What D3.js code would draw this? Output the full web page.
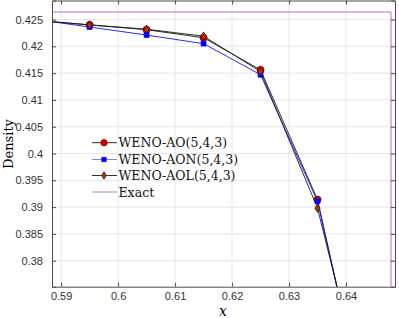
<!DOCTYPE html>
<html>
<head>
<meta charset="utf-8">
<script src="https://cdn.jsdelivr.net/npm/d3@7"></script>
<style>
  body { margin: 0; background: #fff; }
  svg { display: block; }
</style>
</head>
<body>
<script>
var xs = [0.585, 0.595, 0.605, 0.615, 0.625, 0.635, 0.645];
var ao = [0.4249, 0.4240, 0.4231, 0.4216, 0.4156, 0.3914, 0.344];
var aon = [0.4251, 0.4236, 0.4221, 0.4205, 0.4147, 0.3911, 0.344];
var aol = [0.4249, 0.4240, 0.4232, 0.4219, 0.4153, 0.3898, 0.347];
var exactX = [0.58, 0.6479, 0.6479];
var exactY = [0.4264, 0.4264, 0.36];
var xTicks = [0.59, 0.6, 0.61, 0.62, 0.63, 0.64];
var yTicks = [0.38, 0.385, 0.39, 0.395, 0.4, 0.405, 0.41, 0.415, 0.42, 0.425];
var names = ['WENO-AO(5,4,3)', 'WENO-AON(5,4,3)', 'WENO-AOL(5,4,3)', 'Exact'];

var W = 399, H = 318;
var mLeft = 52, mRight = 395, mTop = 0.5, mBottom = 286.7;

var svg = d3.select('body').append('svg').attr('width', W).attr('height', H);
var x = d3.scaleLinear().domain([0.5884, 0.6486]).range([mLeft, mRight]);
var y = d3.scaleLinear().domain([0.37515, 0.42855]).range([mBottom, mTop]);

svg.append('defs').append('clipPath').attr('id', 'clip')
  .append('rect').attr('x', mLeft).attr('y', mTop)
  .attr('width', mRight - mLeft).attr('height', mBottom - mTop);

// grid
svg.append('g').selectAll('line').data(xTicks).enter().append('line')
  .attr('x1', function(d) { return x(d); }).attr('x2', function(d) { return x(d); })
  .attr('y1', mTop).attr('y2', mBottom)
  .attr('stroke', '#e6e6e6').attr('stroke-width', 1);
svg.append('g').selectAll('line').data(yTicks).enter().append('line')
  .attr('x1', mLeft).attr('x2', mRight)
  .attr('y1', function(d) { return y(d); }).attr('y2', function(d) { return y(d); })
  .attr('stroke', '#e6e6e6').attr('stroke-width', 1);

var plot = svg.append('g').attr('clip-path', 'url(#clip)');

function pts(ys) {
  return xs.map(function(d, i) { return [d, ys[i]]; });
}
var line = d3.line().x(function(d) { return x(d[0]); }).y(function(d) { return y(d[1]); });

var series = [
  { data: pts(ao), line: '#1a1a1a', fill: '#e00000', stroke: '#600000', shape: d3.symbolCircle, size: 40, sc: '' },
  { data: pts(aon), line: '#1010ff', fill: '#0000ff', stroke: '#0000ff', shape: d3.symbolSquare, size: 24, sc: '' },
  { data: pts(aol), line: '#1a1a1a', fill: '#a03a0a', stroke: '#3a1000', shape: d3.symbolDiamond, size: 20, sc: ' scale(1.1,1)' }
];

plot.append('path')
  .datum(exactX.map(function(d, i) { return [d, exactY[i]]; }))
  .attr('d', line).attr('fill', 'none').attr('stroke', '#b070c0').attr('stroke-width', 1);

series.forEach(function(s) {
  plot.append('path').datum(s.data).attr('d', line)
    .attr('fill', 'none').attr('stroke', s.line).attr('stroke-width', 0.9);
});
series.forEach(function(s) {
  plot.selectAll(null).data(s.data).enter().append('path')
    .attr('d', d3.symbol().type(s.shape).size(s.size))
    .attr('transform', function(d) {
      return 'translate(' + x(d[0]) + ',' + y(d[1]) + ')' + s.sc;
    })
    .attr('fill', s.fill).attr('stroke', s.stroke).attr('stroke-width', 0.7);
});

// axes
var axColor = '#4d4d4d';
var gx = svg.append('g').attr('transform', 'translate(0,' + mBottom + ')')
  .call(d3.axisBottom(x).tickValues(xTicks).tickSize(-4).tickPadding(6)
    .tickFormat(function(d) { return String(+d.toFixed(3)); }));
var gy = svg.append('g').attr('transform', 'translate(' + mLeft + ',0)')
  .call(d3.axisLeft(y).tickValues(yTicks).tickSize(-4).tickPadding(9)
    .tickFormat(function(d) { return String(+d.toFixed(3)); }));
var gt = svg.append('g').attr('transform', 'translate(0,' + mTop + ')')
  .call(d3.axisTop(x).tickValues(xTicks).tickSize(-4).tickFormat(''));
var gr = svg.append('g').attr('transform', 'translate(' + mRight + ',0)')
  .call(d3.axisRight(y).tickValues(yTicks).tickSize(-4).tickFormat(''));
[gx, gy, gt, gr].forEach(function(g) {
  g.select('.domain').attr('stroke', axColor);
  g.selectAll('.tick line').attr('stroke', axColor);
  g.selectAll('.tick text').attr('fill', '#333').style('font-family', 'Liberation Sans, Arial, sans-serif').style('font-size', '11px');
});

// labels
svg.append('text').attr('x', 223).attr('y', 316).attr('text-anchor', 'middle')
  .style('font-family', 'DejaVu Serif, serif').style('font-style', 'italic').style('font-size', '14px')
  .text('x');
svg.append('text').attr('transform', 'translate(13,144) rotate(-90)').attr('text-anchor', 'middle')
  .style('font-family', 'DejaVu Serif, serif').style('font-size', '13px')
  .text('Density');

// legend
var leg = svg.append('g');
var rowY = [142.7, 159.5, 175.5, 192];
var legStyles = [series[0], series[1], series[2], { line: '#b070c0' }];
legStyles.forEach(function(s, i) {
  var g = leg.append('g').attr('transform', 'translate(0,' + rowY[i] + ')');
  g.append('line').attr('x1', 92).attr('x2', 117).attr('y1', 0).attr('y2', 0)
    .attr('stroke', i === 1 ? '#7070ff' : s.line).attr('stroke-width', 0.9);
  if (s.shape) {
    g.append('path').attr('d', d3.symbol().type(s.shape).size(s.size * 0.8)())
      .attr('transform', 'translate(104,0)' + s.sc)
      .attr('fill', s.fill).attr('stroke', s.stroke).attr('stroke-width', 0.7);
  }
  g.append('text').attr('x', 118.5).attr('y', 4.6)
    .style('font-family', 'DejaVu Serif, serif').style('font-size', '12.5px').attr('fill', '#111')
    .text(names[i]);
});
</script>
</body>
</html>
